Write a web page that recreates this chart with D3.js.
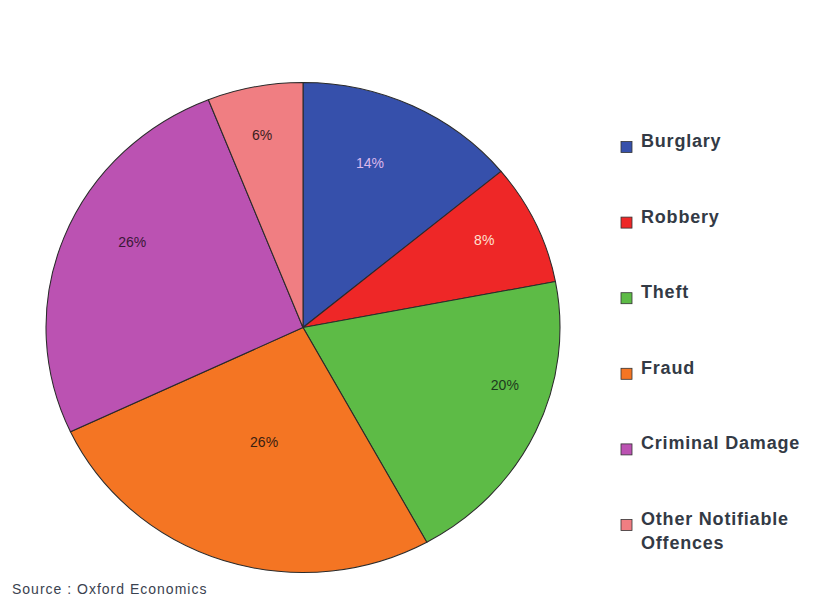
<!DOCTYPE html>
<html>
<head>
<meta charset="utf-8">
<script src="https://cdn.jsdelivr.net/npm/d3@7"></script>
<style>
  html, body { margin: 0; padding: 0; background: #fff; }
  svg { display: block; font-family: "Liberation Sans", Arial, sans-serif; }
</style>
</head>
<body>
<svg id="chart" width="829" height="604"></svg>
<script>
// Share of crime cost by offence type (%)
const categories = ["Burglary", "Robbery", "Theft", "Fraud", "Criminal Damage", "Other Notifiable Offences"];
const values = [14, 8, 20, 26, 26, 6];
const valueLabels = ["14%", "8%", "20%", "26%", "26%", "6%"];
const legendLines = [["Burglary"], ["Robbery"], ["Theft"], ["Fraud"], ["Criminal Damage"], ["Other Notifiable", "Offences"]];
const colors = ["#3650ab", "#ee2727", "#5dbb46", "#f47523", "#bb52b2", "#f07e82"];
const labelColors = ["#dcb8ec", "#ffe0d0", "#1e3a1e", "#3a2010", "#3a1838", "#3a2020"];
// label placement: fraction of radius and angular nudge (degrees) from the slice mid-angle
const labelRadius = [0.72, 0.79, 0.82, 0.49, 0.75, 0.80];
const labelTurn = [-4, -1.6, -8.5, 0, 6, -0.7];
const sourceText = "Source : Oxford Economics";

const svg = d3.select("#chart");
const cx = 303, cy = 327.5, ry = 245, rx = 257;
const sx = rx / ry;

const pie = d3.pie().sort(null).value(d => d)(values);
const arc = d3.arc().innerRadius(0).outerRadius(ry);

const g = svg.append("g").attr("transform", `translate(${cx},${cy}) scale(${sx},1)`);
g.selectAll("path").data(pie).join("path")
  .attr("d", arc)
  .attr("fill", (d, i) => colors[i])
  .attr("stroke", "#2a2a2a")
  .attr("stroke-width", 1);

// Percentage labels
svg.append("g").selectAll("text").data(pie).join("text")
  .attr("transform", (d, i) => {
    const a = (d.startAngle + d.endAngle) / 2 + labelTurn[i] * Math.PI / 180;
    const r = ry * labelRadius[i];
    return `translate(${cx + Math.sin(a) * r * sx},${cy - Math.cos(a) * r})`;
  })
  .attr("text-anchor", "middle")
  .attr("dy", "0.35em")
  .attr("font-size", 14)
  .attr("fill", (d, i) => labelColors[i])
  .text((d, i) => valueLabels[i]);

// Legend
const legendY = d3.scalePoint().domain(categories).range([147, 525]);
const lg = svg.append("g").selectAll("g").data(categories).join("g")
  .attr("transform", d => `translate(621,${legendY(d)})`);
lg.append("rect")
  .attr("x", 0).attr("y", -5.5).attr("width", 11).attr("height", 11)
  .attr("fill", (d, i) => colors[i])
  .attr("stroke", "#333").attr("stroke-width", 0.8);
lg.append("text")
  .attr("x", 20).attr("dy", "0.36em")
  .attr("font-size", 18).attr("font-weight", "bold").attr("fill", "#333a45")
  .attr("letter-spacing", 0.8)
  .selectAll("tspan").data((d, i) => legendLines[i]).join("tspan")
  .attr("x", 20).attr("dy", (t, j) => j === 0 ? 0 : 24)
  .text(t => t);

svg.append("text")
  .attr("x", 12).attr("y", 594)
  .attr("font-size", 14).attr("fill", "#3a4250")
  .attr("letter-spacing", 1)
  .text(sourceText);
</script>
</body>
</html>
